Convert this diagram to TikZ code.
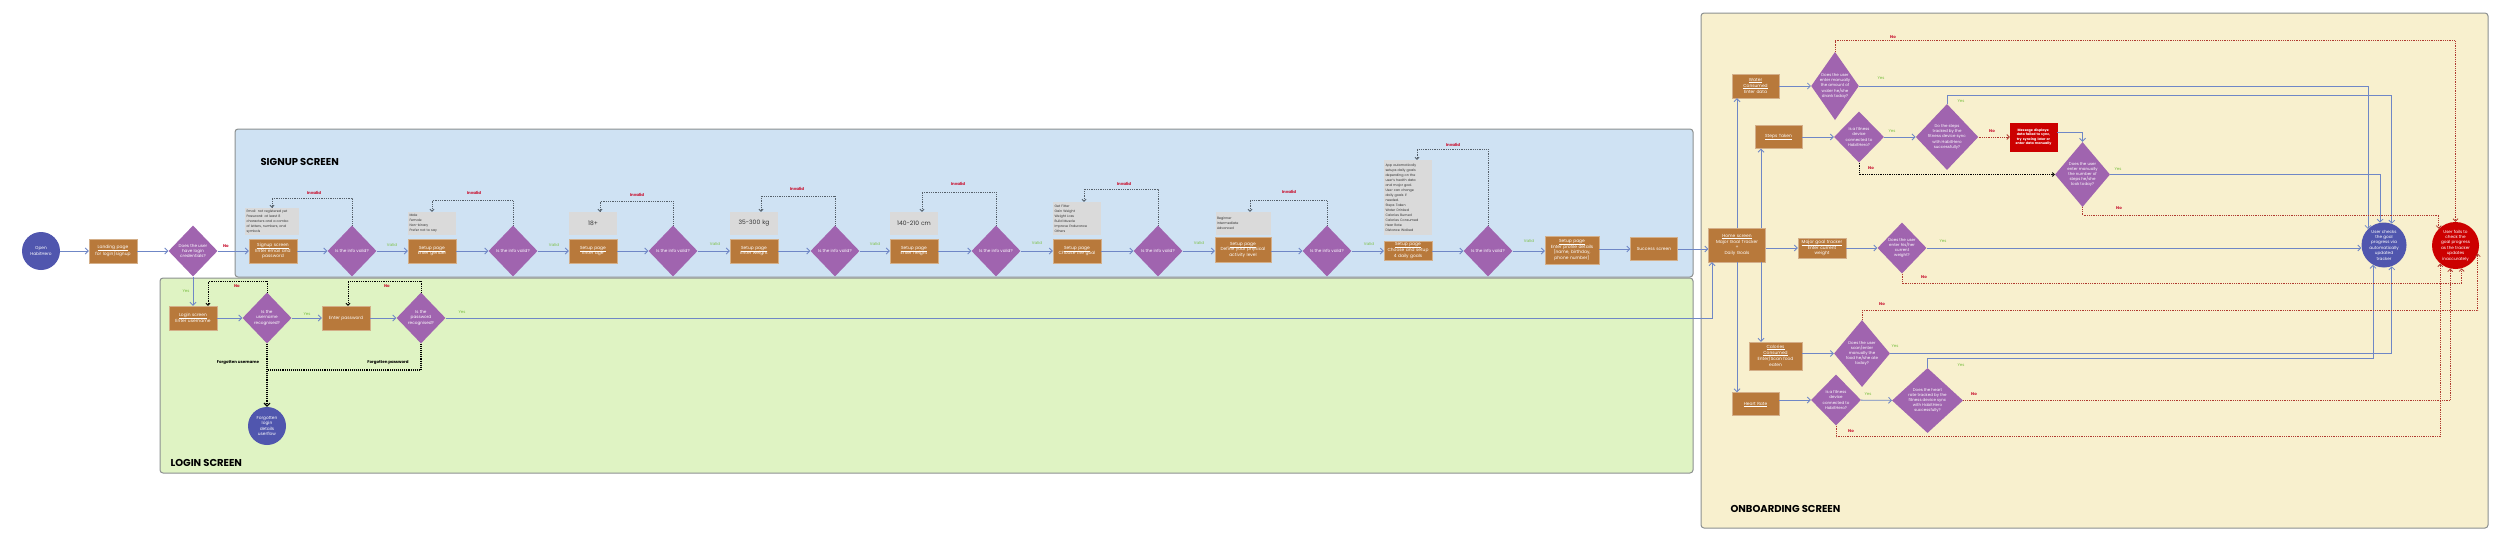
\documentclass[tikz,border=0pt]{standalone}
\usepackage{fontspec}
\setmainfont{Poppins}
\usepackage{xcolor}
\usetikzlibrary{arrows.meta, shapes.geometric, calc}

\definecolor{signupbg}{HTML}{CFE2F3}
\definecolor{loginbg}{HTML}{DFF3C3}
\definecolor{onboardbg}{HTML}{F8F0CE}
\definecolor{areaedge}{HTML}{8C9090}
\definecolor{pagefill}{HTML}{B8793B}
\definecolor{checkfill}{HTML}{A064AF}
\definecolor{startfill}{HTML}{5056AE}
\definecolor{failred}{HTML}{CC0000}
\definecolor{flowblue}{HTML}{6F87C6}
\definecolor{notegrey}{HTML}{DADADA}
\definecolor{okgreen}{HTML}{7BC043}
\definecolor{nored}{HTML}{C8102E}
\definecolor{loopred}{HTML}{B03A30}
\definecolor{loopgrey}{HTML}{55606A}

\newcommand{\titleul}[1]{\leavevmode\vtop{\hbox{#1}\kern0.35pt\hrule height 0.25pt}}

\begin{document}
\begin{tikzpicture}[x=1pt, y=-1pt,
  area/.style={draw=areaedge, line width=1pt, rounded corners=3pt},
  title/.style={anchor=west, font=\fontsize{10}{12}\selectfont\bfseries},
  page/.style={fill=pagefill, draw=pagefill!60!white, line width=0.4pt,
               text=white, align=center, inner sep=1pt,
               text width=46pt, minimum height=24pt,
               font=\fontsize{4.4}{5.8}\selectfont},
  check/.style={diamond, fill=checkfill, text=white, align=center,
                inner sep=0pt, minimum width=49pt, minimum height=51pt,
                font=\fontsize{4.2}{5.4}\selectfont},
  note/.style={fill=notegrey, text=black!80, align=left, inner sep=1.5pt,
               text width=45pt, minimum height=23pt,
               font=\fontsize{3.3}{5}\selectfont},
  rangenote/.style={note, align=center, font=\fontsize{6}{7}\selectfont},
  terminal/.style={circle, fill=startfill, text=white, align=center,
                   inner sep=0pt, font=\fontsize{4.3}{5.6}\selectfont},
  arrow/.style={-{Straight Barb[length=3pt,width=6pt]}, flowblue, line width=0.8pt},
  retry/.style={-{Straight Barb[length=2pt,width=4pt]}, loopgrey, densely dotted, line width=0.8pt},
  lostloop/.style={-{Straight Barb[length=2pt,width=4pt]}, black, densely dotted, line width=0.8pt},
  lostline/.style={-{Straight Barb[length=3pt,width=6pt]}, black, densely dotted, line width=1.1pt},
  failpath/.style={-{Straight Barb[length=2.5pt,width=5pt]}, loopred, densely dotted, line width=0.8pt},
  oklabel/.style={text=okgreen, font=\fontsize{4}{5}\selectfont},
  nolabel/.style={text=nored, font=\fontsize{4}{5}\selectfont\bfseries},
  plainlabel/.style={text=black, font=\fontsize{4}{5}\selectfont\bfseries}
]
\useasboundingbox (0,0) rectangle (2500,549);

\draw[area, fill=loginbg] (160,278) rectangle (1693,473);
\draw[area, fill=signupbg] (235,129) rectangle (1693,277);
\draw[area, fill=onboardbg] (1701,13) rectangle (2488,528);

\node[title] (signuptitle) at (257,162) {SIGNUP SCREEN};
\node[title] (logintitle) at (167,463) {LOGIN SCREEN};
\node[title] (onboardtitle) at (1727,509) {ONBOARDING SCREEN};

% signup row
\node[terminal, minimum size=38pt] (open) at (41,251) {Open\\HabitHero};
\node[page] (landing) at (113,251) {\titleul{Landing page}\\for login/signup};
\node[check] (hascred) at (193,251) {Does the user\\have login\\credentials?};
\node[page] (signup) at (273,251) {\titleul{Signup screen}\\Enter email and\\password};
\node[note, text width=51pt, minimum height=27pt] (signupnote) at (272,221.5)
  {Email: not registered yet\\Password: at least 8\\characters and a combo\\of letters, numbers, and\\symbols};
\node[check] (valid1) at (352,251) {Is the info valid?};
\node[page] (gender) at (432,251) {\titleul{Setup page}\\Enter gender};
\node[note] (gendernote) at (432,223.5) {Male\\Female\\Non-binary\\Prefer not to say};
\node[check] (valid2) at (513,251) {Is the info valid?};
\node[page] (age) at (593,251) {\titleul{Setup page}\\Enter age};
\node[rangenote] (agenote) at (593,223.5) {18+};
\node[check] (valid3) at (673,251) {Is the info valid?};
\node[page] (weight) at (754,251) {\titleul{Setup page}\\Enter weight};
\node[rangenote] (weightnote) at (754,223.5) {35-300 kg};
\node[check] (valid4) at (835,251) {Is the info valid?};
\node[page] (height) at (914,251) {\titleul{Setup page}\\Enter height};
\node[rangenote] (heightnote) at (914,223.5) {140-210 cm};
\node[check] (valid5) at (996,251) {Is the info valid?};
\node[page] (goal) at (1077,251) {\titleul{Setup page}\\Choose the goal};
\node[note, minimum height=33pt] (goalnote) at (1077,218.5)
  {Get Fitter\\Gain Weight\\Weight Loss\\Build Muscle\\Improve Endurance\\Others};
\node[check] (valid6) at (1158,251) {Is the info valid?};
\node[page, text width=54pt, minimum height=25pt] (activity) at (1243,250)
  {\titleul{Setup page}\\Define your physical\\activity level};
\node[note, text width=52pt] (activitynote) at (1243,223.5) {Beginner\\Intermediate\\Advanced};
\node[check] (valid7) at (1327,251) {Is the info valid?};
\node[page, minimum height=19pt] (daily) at (1408,250.5)
  {\titleul{Setup page}\\Choose and setup\\4 daily goals};
\node[note, minimum height=75pt] (dailynote) at (1408,197.5)
  {App automatically\\setups daily goals\\depending on the\\user's health data\\and major goal.\\User can change\\daily goals if\\needed.\\Steps Taken\\Water Drinked\\Calories Burned\\Calories Consumed\\Hear Rate\\Distance Walked};
\node[check] (valid8) at (1488,251) {Is the info valid?};
\node[page, text width=52pt, minimum height=28pt] (profile) at (1572,250)
  {\titleul{Setup page}\\Enter profile details\\(name, birthday,\\phone number)};
\node[page, text width=45pt, minimum height=23pt] (success) at (1654,249) {Success screen};
\node[page, text width=55pt, minimum height=34pt] (home) at (1737,245)
  {\titleul{Home screen}\\Major Goal Tracker\\+\\Daily Goals};

\draw[arrow] (open) -- (landing);
\draw[arrow] (landing) -- (hascred);
\draw[arrow] (hascred) -- (signup);
\draw[arrow] (signup) -- (valid1);
\draw[arrow] (valid1) -- (gender);
\draw[arrow] (gender) -- (valid2);
\draw[arrow] (valid2) -- (age);
\draw[arrow] (age) -- (valid3);
\draw[arrow] (valid3) -- (weight);
\draw[arrow] (weight) -- (valid4);
\draw[arrow] (valid4) -- (height);
\draw[arrow] (height) -- (valid5);
\draw[arrow] (valid5) -- (goal);
\draw[arrow] (goal) -- (valid6);
\draw[arrow] (valid6) -- (activity.west |- valid6);
\draw[arrow] (activity.east |- valid7) -- (valid7);
\draw[arrow] (valid7) -- (daily.west |- valid7);
\draw[arrow] (daily.east |- valid8) -- (valid8);
\draw[arrow] (valid8) -- (profile.west |- valid8);
\draw[arrow] (profile.east |- success) -- (success);
\draw[arrow] (success) -- (success -| home.west);

\draw[retry] (valid1.north) -- ++(0,-27) -| (signupnote.north);
\draw[retry] (valid2.north) -- ++(0,-25) -| (gendernote.north);
\draw[retry] (valid3.north) -- ++(0,-24) -| ([xshift=7pt]agenote.north);
\draw[retry] (valid4.north) -- ++(0,-29) -| ([xshift=7pt]weightnote.north);
\draw[retry] (valid5.north) -- ++(0,-33) -| ([xshift=8pt]heightnote.north);
\draw[retry] (valid6.north) -- ++(0,-36) -| ([xshift=7pt]goalnote.north);
\draw[retry] (valid7.north) -- ++(0,-25) -| ([xshift=7pt]activitynote.north);
\draw[retry] (valid8.north) -- ++(0,-76) -| ([xshift=9pt]dailynote.north);

\node[nolabel] (inv1) at (314,193) {Invalid};
\node[nolabel] (inv2) at (474,193) {Invalid};
\node[nolabel] (inv3) at (637,195) {Invalid};
\node[nolabel] (inv4) at (797,189) {Invalid};
\node[nolabel] (inv5) at (958,184) {Invalid};
\node[nolabel] (inv6) at (1124,184) {Invalid};
\node[nolabel] (inv7) at (1289,192) {Invalid};
\node[nolabel] (inv8) at (1453,145) {Invalid};
\node[oklabel] (ok1) at (392,245) {Valid};
\node[oklabel] (ok2) at (554,245) {Valid};
\node[oklabel] (ok3) at (715,244) {Valid};
\node[oklabel] (ok4) at (875,244) {Valid};
\node[oklabel] (ok5) at (1037,243) {Valid};
\node[oklabel] (ok6) at (1199,243) {Valid};
\node[oklabel] (ok7) at (1369,244) {Valid};
\node[oklabel] (ok8) at (1529,241) {Valid};
\node[nolabel] (credno) at (226,246) {No};
\node[oklabel] (credyes) at (186,291) {Yes};

% login
\node[page] (login) at (193,318) {\titleul{Login screen}\\Enter username};
\node[check] (username) at (267,318) {Is the\\username\\recognised?};
\node[page] (password) at (346,318) {Enter password};
\node[check] (passok) at (421,318) {Is the\\password\\recognised?};
\node[terminal, minimum size=38pt] (forgot) at (267,426) {Forgotten\\login\\details\\userflow};
\coordinate (forgotjoin) at (267,370);

\draw[arrow] (hascred) -- (login);
\draw[arrow] (login) -- (username);
\draw[arrow] (username) -- (password);
\draw[arrow] (password) -- (passok);
\draw[lostloop] (username.north) -- ++(0,-11) -| ([xshift=15pt]login.north);
\draw[lostloop] (passok.north) -- ++(0,-11) -| ([xshift=2pt]password.north);
\draw[lostline] (username.south) -- (forgot.north);
\draw[lostline, -] (passok.south) |- (forgotjoin);
\draw[arrow] (passok.east) -| ([xshift=-25pt]home.south);

\node[nolabel] (userno) at (237,286) {No};
\node[nolabel] (passno) at (387,286) {No};
\node[oklabel] (useryes) at (307,314) {Yes};
\node[oklabel] (passyes) at (462,312) {Yes};
\node[plainlabel] (forgotuser) at (238,363) {Forgotten username};
\node[plainlabel] (forgotpass) at (388,363) {Forgotten password};

% onboarding
\node[page, text width=45pt] (water) at (1755.5,86) {\titleul{Water}\\\titleul{Consumed}\\Enter data};
\node[page, text width=45pt, minimum height=23pt] (steps) at (1778.5,137) {\titleul{Steps Taken}};
\node[page, minimum height=20pt] (major) at (1822,248) {\titleul{Major goal tracker}\\Enter current\\weight};
\node[page, text width=51pt, minimum height=28pt] (calories) at (1775.5,356)
  {\titleul{Calories}\\\titleul{Consumed}\\Enter/Scan food\\eaten};
\node[page, text width=45pt, minimum height=23pt] (heart) at (1755.5,404) {\titleul{Heart Rate}};

\node[check, minimum width=46pt, minimum height=66pt, shape aspect=0.7,
      font=\fontsize{4}{5.2}\selectfont] (waterq) at (1835,86)
  {Does the user\\enter manually\\the amount of\\water he/she\\drank today?};
\node[check, minimum width=50pt, font=\fontsize{4}{5.2}\selectfont] (stepsdev) at (1859,137)
  {Is a fitness\\device\\connected to\\HabitHero?};
\node[check, minimum width=62pt, minimum height=66pt, font=\fontsize{4}{5.2}\selectfont] (stepssync) at (1947,137)
  {Do the steps\\tracked by the\\fitness device sync\\with HabitHero\\successfully?};
\node[page, fill=failred, draw=failred, text width=45pt, minimum height=28pt,
      font=\fontsize{3.3}{4.4}\selectfont\bfseries] (message) at (2033.5,137)
  {Message displays:\\data failed to sync,\\try syncing later or\\enter data manually};
\node[check, minimum width=55pt, minimum height=65pt, shape aspect=0.8,
      font=\fontsize{4}{5.2}\selectfont] (stepsq) at (2082.5,174.5)
  {Does the user\\enter manually\\the number of\\steps he/she\\took today?};
\node[check, font=\fontsize{4}{5.2}\selectfont] (weightq) at (1902,248)
  {Does the user\\enter his/her\\current\\weight?};
\node[check, minimum width=56pt, minimum height=67pt, shape aspect=0.8,
      font=\fontsize{4}{5.2}\selectfont] (caloriesq) at (1862,353.5)
  {Does the user\\scan/enter\\manually the\\food he/she ate\\today?};
\node[check, minimum width=50pt, font=\fontsize{4}{5.2}\selectfont] (heartdev) at (1836,400)
  {Is a fitness\\device\\connected to\\HabitHero?};
\node[check, minimum width=71pt, minimum height=65pt, font=\fontsize{4}{5.2}\selectfont] (heartsync) at (1927.5,400.5)
  {Does the heart\\rate tracked by the\\fitness device sync\\with HabitHero\\successfully?};

\node[terminal, minimum size=45pt, font=\fontsize{4.2}{5.4}\selectfont] (progress) at (2384,245)
  {User checks\\the goal\\progress via\\automatically\\updated\\tracker};
\node[terminal, fill=failred, minimum size=47pt, font=\fontsize{4.2}{5.4}\selectfont] (fails) at (2455.5,245.5)
  {User fails to\\check the\\goal progress\\as the tracker\\updates\\inaccurately};

\draw[arrow] (home.north) -- (home.north |- water.south);
\draw[arrow] ([xshift=24pt]home.north) -- ([xshift=24pt]home.north |- steps.south);
\draw[arrow] ([xshift=24pt]home.south) -- ([xshift=24pt]home.south |- calories.north);
\draw[arrow] (home.south) -- (home.south |- heart.north);
\draw[arrow] (home.east |- major) -- (major);

\draw[arrow] (water) -- (waterq);
\draw[arrow] (steps) -- (stepsdev);
\draw[arrow] (stepsdev) -- (stepssync);
\draw[arrow] (major) -- (weightq);
\draw[arrow] (calories.east |- caloriesq) -- (caloriesq);
\draw[arrow] (heart.east |- heartdev) -- (heartdev);
\draw[arrow] (heartdev) -- (heartsync);
\draw[failpath] (stepssync) -- (message);
\draw[arrow] ([yshift=5pt]message.east) -| (stepsq.north);
\draw[lostloop] (stepsdev.south) |- (stepsq.west);

\draw[arrow] (waterq.east) -| (progress.135);
\draw[arrow] (stepssync.north) -- ++(0,-8) -| (progress.70);
\draw[arrow] (stepsq.east) -| (progress.100);
\draw[arrow] (weightq.east) -- (weightq.east -| progress.west);
\draw[arrow] (caloriesq.east) -| (progress.-70);
\draw[arrow] (heartsync.north) -- ++(0,-9) -| (progress.-119);

\draw[failpath] (waterq.north) -- ++(0,-11) -| (fails.north);
\draw[failpath] (stepsq.south) -- ++(0,8) -| (fails.135);
\draw[failpath] (weightq.south) -- ++(0,10) -| (fails.-75);
\draw[failpath] (caloriesq.north) -- ++(0,-9) -| (fails.-20);
\draw[failpath] (heartsync.east) -| (fails.-103);
\draw[failpath] (heartdev.south) -- ++(0,11) -| (fails.-130);

\node[nolabel] (waterno) at (1893,37) {No};
\node[oklabel] (wateryes) at (1881,78) {Yes};
\node[oklabel] (stepsdevyes) at (1892,131) {Yes};
\node[nolabel] (stepsdevno) at (1871,168) {No};
\node[oklabel] (stepssyncyes) at (1961,101) {Yes};
\node[nolabel] (stepssyncno) at (1992,131) {No};
\node[oklabel] (stepsqyes) at (2118,169) {Yes};
\node[nolabel] (stepsqno) at (2119,208) {No};
\node[oklabel] (weightyes) at (1943,241) {Yes};
\node[nolabel] (weightno) at (1924,277) {No};
\node[nolabel] (caloriesno) at (1882,304) {No};
\node[oklabel] (caloriesyes) at (1895,346) {Yes};
\node[oklabel] (heartdevyes) at (1868,394) {Yes};
\node[nolabel] (heartdevno) at (1851,431) {No};
\node[oklabel] (heartsyncyes) at (1961,365) {Yes};
\node[nolabel] (heartsyncno) at (1974,394) {No};

\end{tikzpicture}
\end{document}
